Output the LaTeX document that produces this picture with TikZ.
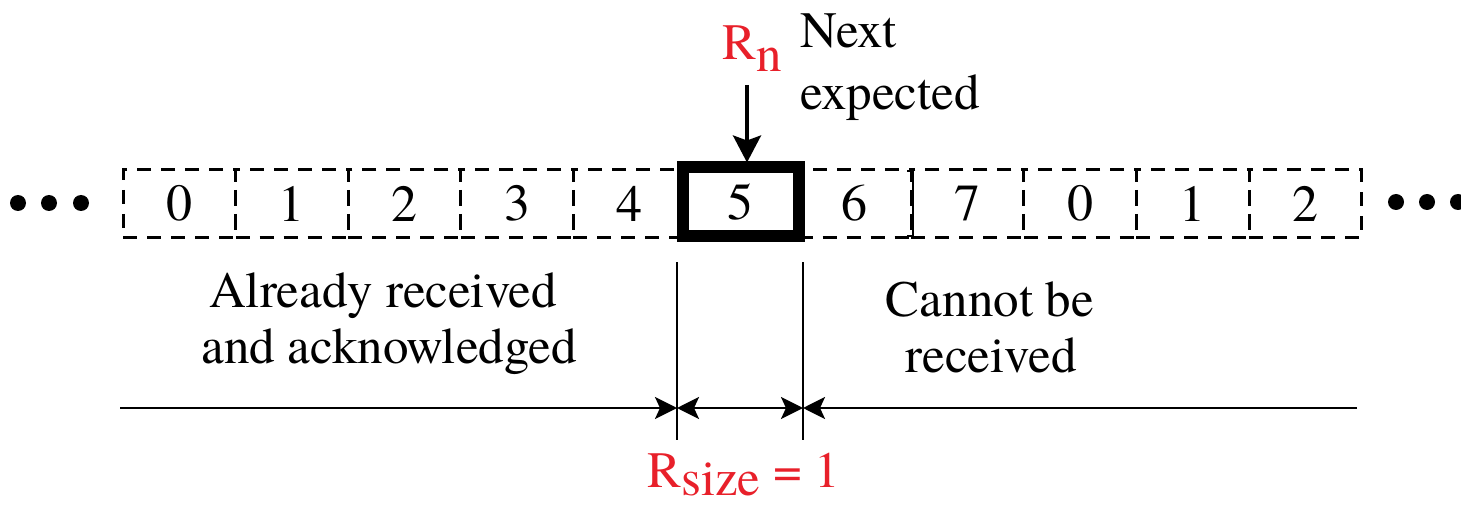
\documentclass[tikz,border=0pt]{standalone}
\usepackage{fontspec}
\IfFontExistsTF{texgyretermes-regular.otf}
  {\setmainfont{texgyretermes}[Extension=.otf, UprightFont=*-regular, BoldFont=*-bold, ItalicFont=*-italic, BoldItalicFont=*-bolditalic]}
  {\setmainfont{Latin Modern Roman}[FakeStretch=0.94]}
\usetikzlibrary{arrows.meta}
\definecolor{rred}{RGB}{232,32,42}
\begin{document}
\begin{tikzpicture}[x=1pt,y=-1pt,
  cell/.style={draw, dash pattern=on 14pt off 10pt, line width=3pt,
    minimum width=112.6pt, minimum height=67pt, inner sep=0pt, outer sep=0pt,
    font=\fontsize{52}{58}\selectfont},
  curcell/.style={draw, solid, line width=12pt, minimum width=116.5pt,
    minimum height=68.5pt, inner sep=0pt, outer sep=0pt,
    font=\fontsize{52}{58}\selectfont},
  txt/.style={font=\fontsize{51}{58}\selectfont, inner sep=0pt},
  dotnode/.style={circle, fill, inner sep=0pt, minimum size=16pt},
  bigarrow/.style={line width=3.8pt, -{Stealth[length=27pt, width=28pt, inset=5pt]}},
  dimline/.style={line width=2.2pt},
  dimarrow/.style={line width=2.8pt, -{Stealth[length=22pt, width=22pt, inset=5pt]}},
  dimdbl/.style={line width=2.8pt, {Stealth[length=22pt, width=22pt, inset=5pt]}-{Stealth[length=22pt, width=22pt, inset=5pt]}}
]
\useasboundingbox (0,0) rectangle (1461,505);

% cells
\foreach \i/\l in {0/0,1/1,2/2,3/3,4/4,6/6,7/7,8/0,9/1,10/2}
  \node[cell] (c\i) at ({123+112.6*(\i+0.5)},203.5) {\l};
\draw[line width=2pt] (907,171) -- (913,171) -- (913,236) -- (907,236);
\node[curcell] (c5) at (740.75,201.75) {5};

% dots
\node[dotnode] (dl1) at (18,203) {};
\node[dotnode] (dl2) at (49,203) {};
\node[dotnode] (dl3) at (81,203) {};
\node[dotnode] (dr1) at (1396,202) {};
\node[dotnode] (dr2) at (1427,202) {};
\node[dotnode] (dr3) at (1458,202) {};

% Rn pointer
\node[txt, text=rred, anchor=base west] (rn) at (722,60) {R\raisebox{-12pt}{n}};
\coordinate (a0) at (747,85);
\draw[bigarrow, shorten >=5pt] (a0) -- (a0 |- c5.north);
\node[txt, anchor=base west] (nx1) at (800,48) {Next};
\node[txt, anchor=base west] (nx2) at (800,110) {expected};

% region labels
\node[txt, anchor=base] (al1) at (383,307) {Already received};
\node[txt, anchor=base] (al2) at (389,363) {and acknowledged};
\node[txt, anchor=base] (cb1) at (990,316) {Cannot be};
\node[txt, anchor=base] (cb2) at (991,372) {received};

% dimension lines
\coordinate (v1t) at (677,262);
\coordinate (v1b) at (677,440);
\coordinate (v2t) at (803,262);
\coordinate (v2b) at (803,440);
\draw[dimline] (v1t) -- (v1b);
\draw[dimline] (v2t) -- (v2b);
\coordinate (hl) at (120,408);
\coordinate (hr) at (1357,408);
\draw[dimarrow] (hl) -- (hl -| v1t);
\draw[dimdbl] (v1t |- hl) -- (v2t |- hl);
\draw[dimarrow] (hr) -- (hr -| v2t);

\node[txt, text=rred, anchor=base west] (rs) at (647,487) {R\raisebox{-8pt}{size} = 1};
\end{tikzpicture}
\end{document}
